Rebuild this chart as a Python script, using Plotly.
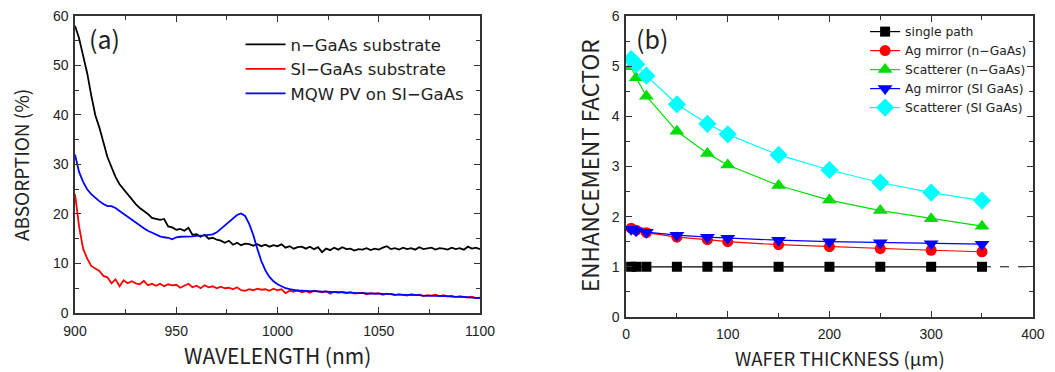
import plotly.graph_objects as go

# ---------------- Panel (a) data ----------------
wavelength = list(range(900, 1101, 2))  # nm

n_gaas = [
    58.0, 55.5, 52.0, 48.5, 44.0, 40.0, 37.5, 34.5, 31.5, 29.5,
    27.5, 26.0, 25.0, 23.8, 22.8, 22.0, 21.2, 20.6, 20.0, 19.2,
    19.0, 18.8, 19.0, 17.5, 17.3, 16.8, 17.0, 16.6, 17.2, 15.8,
    15.9, 15.4, 15.8, 15.0, 15.2, 14.8, 14.6, 14.2, 14.6, 13.8,
    14.2, 13.7, 14.0, 13.9, 13.6, 13.9, 13.5, 13.8, 13.4, 13.7,
    13.5, 13.9, 13.2, 13.5, 13.0, 13.3, 13.4, 13.0, 13.4, 12.9,
    13.3, 12.3, 13.0, 12.7, 13.2, 12.8, 13.3, 12.9, 13.0, 12.6,
    12.9, 12.8, 13.1, 12.7, 13.0, 12.8, 13.2, 13.5, 12.9, 13.1,
    12.8, 13.2, 12.9, 13.1, 12.8, 13.3, 12.9, 13.0, 13.2, 12.8,
    13.1, 13.0, 12.8, 13.2, 12.9, 13.1, 12.8, 13.4, 13.0, 13.2,
    12.9,
]

si_gaas = [
    24.0, 17.5, 13.0, 11.0, 9.5, 9.0, 8.5, 7.5, 7.2, 6.0,
    6.8, 5.4, 6.6, 6.0, 6.4, 6.0, 5.8, 6.5, 5.6, 5.9,
    5.5, 5.9, 5.4, 5.8, 5.6, 5.7, 5.1, 5.5, 5.9, 5.2,
    5.5, 5.0, 5.6, 5.2, 5.4, 5.0, 5.3, 5.0, 5.1, 4.8,
    5.2, 4.6, 4.5, 4.8, 4.6, 4.9, 4.7, 4.8, 4.5, 4.9,
    4.6, 4.8, 4.0, 4.5, 4.3, 4.6, 4.2, 4.4, 4.1, 4.5,
    4.3, 4.2, 4.4, 3.9, 4.3, 4.1, 4.3, 4.0, 4.2, 3.9,
    4.0, 4.1, 3.8, 4.0, 3.9, 4.0, 3.7, 3.9, 3.8, 3.6,
    3.8, 3.7, 3.5, 3.8, 3.6, 3.7, 3.4, 3.6, 3.5, 3.7,
    3.4, 3.6, 3.3, 3.5, 3.2, 3.4, 3.3, 3.1, 3.3, 3.0,
    3.1,
]

mqw_pv = [
    32.0, 28.5, 26.5, 25.0, 24.0, 23.2, 22.6, 22.0, 21.6, 21.6,
    21.2, 20.6, 20.0, 19.4, 18.8, 18.2, 17.6, 17.1, 16.6, 16.2,
    15.8, 15.5, 15.3, 15.2, 14.9, 15.3, 15.4, 15.4, 15.5, 15.5,
    15.6, 15.6, 15.7, 15.8, 15.9, 16.3, 17.0, 17.8, 18.5, 19.2,
    19.8, 20.1, 19.6, 18.0, 15.8, 13.0, 10.5, 8.6, 7.3, 6.4,
    5.8, 5.4, 5.0, 4.8, 4.6, 4.5, 4.5, 4.4, 4.4, 4.4,
    4.3, 4.3, 4.3, 4.2, 4.2, 4.2, 4.1, 4.1, 4.1, 4.0,
    4.0, 4.0, 3.9, 3.9, 3.9, 3.9, 3.8, 3.8, 3.8, 3.7,
    3.7, 3.7, 3.6, 3.6, 3.6, 3.6, 3.5, 3.5, 3.5, 3.5,
    3.4, 3.4, 3.4, 3.3, 3.3, 3.3, 3.2, 3.2, 3.1, 3.1,
    3.0,
]

# ---------------- Panel (b) data ----------------
thickness = [5, 10, 20, 50, 80, 100, 150, 200, 250, 300, 350]  # um
single_path = [1, 1, 1, 1, 1, 1, 1, 1, 1, 1, 1]
ag_n = [1.77, 1.73, 1.68, 1.59, 1.54, 1.50, 1.44, 1.40, 1.36, 1.33, 1.30]
scat_n = [4.99, 4.77, 4.40, 3.70, 3.26, 3.03, 2.62, 2.33, 2.12, 1.96, 1.81]
ag_si = [1.75, 1.72, 1.69, 1.63, 1.59, 1.57, 1.53, 1.50, 1.48, 1.46, 1.45]
scat_si = [5.14, 5.04, 4.81, 4.24, 3.85, 3.64, 3.23, 2.93, 2.68, 2.48, 2.32]
extrap_x = [350, 400]
extrap_y = [1, 1]

TICKFONT = dict(family="Liberation Sans, Arial, sans-serif", size=14, color="#222")
JPFONT = "Noto Sans CJK JP, sans-serif"
LEGFONT = "DejaVu Sans, sans-serif"

fig = go.Figure()

# Panel (a) traces
for name, ys, col in [
    ("n\u2212GaAs substrate", n_gaas, "black"),
    ("SI\u2212GaAs substrate", si_gaas, "#ff0000"),
    ("MQW PV on SI\u2212GaAs", mqw_pv, "#0000ff"),
]:
    fig.add_trace(go.Scatter(x=wavelength, y=ys, mode="lines", name=name,
                             line=dict(color=col, width=1.8),
                             xaxis="x", yaxis="y", legend="legend"))

# Panel (b) traces
series_b = [
    ("single path", single_path, "black", "square", 10),
    ("Ag mirror (n\u2212GaAs)", ag_n, "#ff0000", "circle", 11),
    ("Scatterer (n\u2212GaAs)", scat_n, "#00dd00", "triangle-up", 13),
    ("Ag mirror (SI GaAs)", ag_si, "#0000ff", "triangle-down", 13),
    ("Scatterer (SI GaAs)", scat_si, "#00ffff", "diamond", 14),
]
for name, ys, col, sym, sz in series_b:
    fig.add_trace(go.Scatter(x=thickness, y=ys, mode="lines+markers", name=name,
                             line=dict(color=col, width=1.2),
                             marker=dict(symbol=sym, size=sz, color=col),
                             xaxis="x2", yaxis="y2", legend="legend2"))
fig.add_trace(go.Scatter(x=extrap_x, y=extrap_y, mode="lines", showlegend=False,
                         line=dict(color="black", width=1, dash="dash"),
                         xaxis="x2", yaxis="y2"))

axis_common = dict(showline=True, linecolor="#333", linewidth=1.5, mirror="allticks",
                   ticks="inside", ticklen=6, tickwidth=1.2, tickcolor="#333",
                   showgrid=False, zeroline=False, tickfont=TICKFONT, automargin=False)

fig.update_layout(
    width=1055, height=372,
    margin=dict(l=0, r=0, t=0, b=0, autoexpand=False),
    paper_bgcolor="white", plot_bgcolor="white",
    xaxis=dict(domain=[0.0711, 0.455], range=[900, 1100], dtick=50,
               minor=dict(ticks="inside", dtick=25, ticklen=4, tickcolor="#333"),
               anchor="y", ticklabelstandoff=4, **axis_common),
    yaxis=dict(domain=[0.1586, 0.957], range=[0, 60], dtick=10,
               minor=dict(ticks="inside", dtick=5, ticklen=4, tickcolor="#333"),
               anchor="x", ticklabelstandoff=2, **axis_common),
    xaxis2=dict(domain=[0.5934, 0.979], range=[0, 400], dtick=100,
                minor=dict(ticks="inside", dtick=50, ticklen=4, tickcolor="#333"),
                anchor="y2", ticklabelstandoff=4, **axis_common),
    yaxis2=dict(domain=[0.148, 0.957], range=[0, 6], dtick=1,
                minor=dict(ticks="inside", dtick=0.5, ticklen=4, tickcolor="#333"),
                anchor="x2", ticklabelstandoff=2, **axis_common),
    legend=dict(x=0.228, y=0.927, xanchor="left", yanchor="top",
                bgcolor="rgba(0,0,0,0)", font=dict(family=LEGFONT, size=16.5, color="#222"),
                tracegroupgap=0, itemwidth=40),
    legend2=dict(x=0.82, y=0.954, xanchor="left", yanchor="top",
                 bgcolor="rgba(0,0,0,0)", font=dict(family=LEGFONT, size=12.3, color="#222"),
                 tracegroupgap=0, itemwidth=30),
    showlegend=True,
)

annos = [
    dict(text="(a)", x=104 / 1055, y=(372 - 38) / 372, xanchor="center", yanchor="middle",
         font=dict(family=JPFONT, size=25, color="#222")),
    dict(text="(b)", x=652 / 1055, y=(372 - 38) / 372, xanchor="center", yanchor="middle",
         font=dict(family=JPFONT, size=25, color="#222")),
    dict(text="WAVELENGTH (nm)", x=277 / 1055, y=(372 - 355) / 372, xanchor="center", yanchor="middle",
         font=dict(family=JPFONT, size=21, color="#222")),
    dict(text="ABSORPTION (%)", x=20 / 1055, y=(372 - 165) / 372, xanchor="center", yanchor="middle",
         textangle=-90, font=dict(family=JPFONT, size=19, color="#222")),
    dict(text="WAFER THICKNESS (\u03bcm)", x=840 / 1055, y=(372 - 358) / 372, xanchor="center", yanchor="middle",
         font=dict(family=JPFONT, size=18.5, color="#222")),
    dict(text="ENHANCEMENT FACTOR", x=589 / 1055, y=(372 - 166) / 372, xanchor="center", yanchor="middle",
         textangle=-90, font=dict(family=JPFONT, size=22.5, color="#222")),
]
for a in annos:
    fig.add_annotation(xref="paper", yref="paper", showarrow=False, **a)

fig.write_html("out.html", config={"displayModeBar": False},
               post_script="document.body.style.margin='0';")
